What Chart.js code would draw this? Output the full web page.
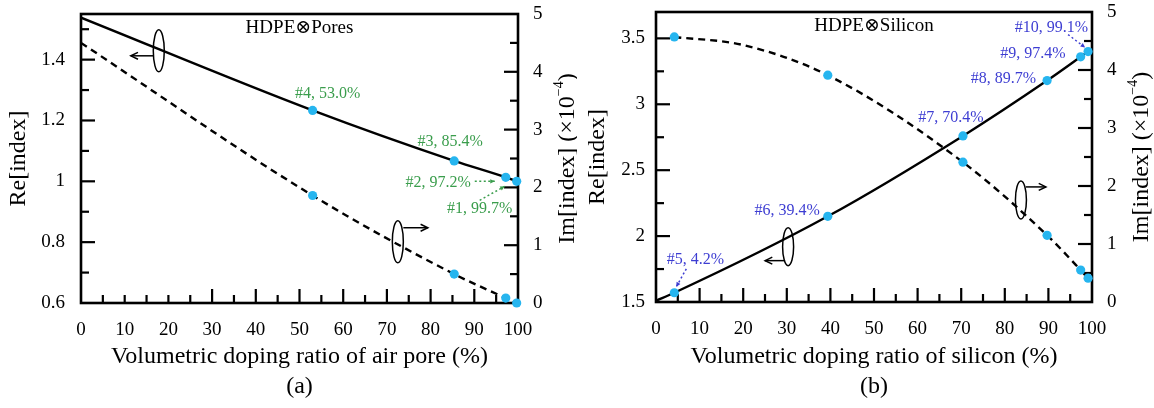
<!DOCTYPE html>
<html>
<head>
<meta charset="utf-8">
<title>HDPE doping ratio</title>
<script src="https://cdn.jsdelivr.net/npm/chart.js@4.4.1/dist/chart.umd.min.js"></script>
<style>
  html, body { margin: 0; padding: 0; background: #fff; }
  #wrap { position: relative; width: 1154px; height: 408px; overflow: hidden; }
  #wrap canvas { position: absolute; top: 0; }
</style>
</head>
<body>
<div id="wrap">
  <canvas id="chartA" width="577" height="408" style="left:0"></canvas>
  <canvas id="chartB" width="577" height="408" style="left:577px"></canvas>
</div>
<script>
// --- (a) HDPE + air pores ---
const poreRatio = [53.0, 85.4, 97.2, 99.7];
const poreRe = [1.233, 1.067, 1.013, 1.0];
const poreIm = [1.86, 0.50, 0.085, 0.0];
const poreTags = ['#4, 53.0%', '#3, 85.4%', '#2, 97.2%', '#1, 99.7%'];
// model curves
const poreCurveX = [0, 53.0, 85.4, 97.2, 99.7];
const poreReCurve = [1.538, 1.233, 1.067, 1.013, 1.0];
const poreImCurve = [4.5, 1.86, 0.50, 0.085, 0.0];

// --- (b) HDPE + silicon ---
const siRatio = [4.2, 39.4, 70.4, 89.7, 97.4, 99.1];
const siRe = [1.57, 2.15, 2.76, 3.18, 3.36, 3.40];
const siIm = [4.57, 3.91, 2.41, 1.15, 0.55, 0.41];
const siTags = ['#5, 4.2%', '#6, 39.4%', '#7, 70.4%', '#8, 89.7%', '#9, 97.4%', '#10, 99.1%'];
const siReCurveX = [0, 4.2, 39.4, 70.4, 89.7, 97.4, 99.1];
const siReCurve = [1.51, 1.57, 2.15, 2.76, 3.18, 3.36, 3.40];
const siImCurveX = [4.2, 20, 39.4, 70.4, 89.7, 97.4, 99.1];
const siImCurve = [4.57, 4.43, 3.91, 2.41, 1.15, 0.55, 0.41];

// --- tick labels ---
const xTicks = [0, 10, 20, 30, 40, 50, 60, 70, 80, 90, 100];
const poreReTicks = [0.6, 0.8, 1, 1.2, 1.4];
const siReTicks = [1.5, 2, 2.5, 3, 3.5];
const imTicks = [0, 1, 2, 3, 4, 5];

const DOT = '#26b5ef';
const GREEN = '#3a9d4c';
const BLUE = '#3d3dd2';
const SERIF = '"Liberation Serif", "DejaVu Serif", serif';

Chart.defaults.font.family = SERIF;
Chart.defaults.color = '#000';

function pts(xs, ys) {
	return xs.map((x, i) => ({ x: x, y: ys[i] }));
}
function hasTick(list, v) {
	return list.some(t => Math.abs(t - v) < 1e-6);
}

function arrowHead(ctx, x0, y0, x1, y1, size, filled) {
	var ang = Math.atan2(y1 - y0, x1 - x0);
	ctx.beginPath();
	ctx.moveTo(x1 - size * Math.cos(ang - 0.45), y1 - size * Math.sin(ang - 0.45));
	ctx.lineTo(x1, y1);
	ctx.lineTo(x1 - size * Math.cos(ang + 0.45), y1 - size * Math.sin(ang + 0.45));
	if (filled) { ctx.closePath(); ctx.fill(); } else { ctx.stroke(); }
}

// fixed axis boxes, no label overflow padding
function fixBox(size, vertical) {
	return function(s) {
		if (vertical) { s.width = size; s.paddingTop = 0; s.paddingBottom = 0; }
		else { s.height = size; s.paddingLeft = 0; s.paddingRight = 0; }
	};
}

// frame, inward ticks, labels, ellipses
const figureDecor = {
	id: 'figureDecor',
	beforeDatasetsDraw(chart, args, o) {
		var ctx = chart.ctx, a = chart.chartArea;
		ctx.save();
		ctx.strokeStyle = '#000';
		ctx.lineWidth = 2.6;
		ctx.strokeRect(a.left, a.top, a.right - a.left, a.bottom - a.top);
		var axes = [
			{ s: chart.scales.x, side: 'bottom', major: v => hasTick(xTicks, v) && !hasTick(o.shortTicks, v) },
			{ s: chart.scales.y, side: 'left', major: v => hasTick(o.reTicks, v) },
			{ s: chart.scales.y1, side: 'right', major: v => hasTick(imTicks, v) }
		];
		ctx.lineWidth = 2.2;
		axes.forEach(ax => {
			ax.s.ticks.forEach(t => {
				var p = ax.s.getPixelForValue(t.value);
				var len = ax.major(t.value) ? 14 : 8;
				ctx.beginPath();
				if (ax.side === 'bottom') {
					if (p < a.left + 2 || p > a.right - 2) return;
					ctx.moveTo(p, a.bottom); ctx.lineTo(p, a.bottom - len);
				} else {
					if (p > a.bottom - 2 || p < a.top + 2) return;
					var x0 = ax.side === 'left' ? a.left : a.right;
					var dir = ax.side === 'left' ? 1 : -1;
					ctx.moveTo(x0, p); ctx.lineTo(x0 + dir * len, p);
				}
				ctx.stroke();
			});
		});
		ctx.restore();
	},
	afterDatasetsDraw(chart, args, o) {
		var ctx = chart.ctx, a = chart.chartArea;
		var sx = chart.scales.x, sy = chart.scales.y, sy1 = chart.scales.y1;
		ctx.save();
		ctx.textBaseline = 'middle';

		// panel title
		ctx.fillStyle = '#000';
		ctx.font = '19px ' + SERIF;
		ctx.textAlign = 'center';
		ctx.fillText(o.title, (a.left + a.right) / 2, a.top + 14);

		// sample tags next to the Re points
		ctx.font = '16px ' + SERIF;
		o.tagPos.forEach((tp, i) => {
			var px = sx.getPixelForValue(o.ratio[i]);
			var py = sy.getPixelForValue(o.re[i]);
			ctx.fillStyle = o.tagColor;
			ctx.strokeStyle = o.tagColor;
			ctx.textAlign = tp.align;
			ctx.fillText(o.tags[i], px + tp.dx, py + tp.dy);
			if (tp.arrow) {
				var q = tp.arrow;
				ctx.lineWidth = 1.5;
				ctx.setLineDash([2, 2.5]);
				ctx.beginPath();
				ctx.moveTo(px + q[0], py + q[1]);
				ctx.lineTo(px + q[2], py + q[3]);
				ctx.stroke();
				ctx.setLineDash([]);
				arrowHead(ctx, px + q[0], py + q[1], px + q[2], py + q[3], 5, true);
			}
		});

		// ellipse markers pointing at the axis of each curve
		ctx.strokeStyle = '#000';
		ctx.fillStyle = '#000';
		ctx.lineWidth = 1.5;
		o.marks.forEach(m => {
			var sc = m.axis === 'y' ? sy : sy1;
			var cx = sx.getPixelForValue(m.x), cy = sc.getPixelForValue(m.y);
			ctx.beginPath();
			ctx.ellipse(cx, cy, 5.5, m.ry, 0, 0, Math.PI * 2);
			ctx.stroke();
			var q = m.arrow;
			ctx.beginPath();
			ctx.moveTo(cx + q[0], cy + q[1]);
			ctx.lineTo(cx + q[2], cy + q[3]);
			ctx.stroke();
			arrowHead(ctx, cx + q[0], cy + q[1], cx + q[2], cy + q[3], 8, false);
		});

		// right axis title, read bottom to top
		ctx.fillStyle = '#000';
		ctx.save();
		ctx.translate(a.right + 50, (a.top + a.bottom) / 2);
		ctx.rotate(-Math.PI / 2);
		var big = '24px ' + SERIF, small = '14px ' + SERIF;
		var parts = [['Im[index] (\u00d710', big, 0], ['\u22124', small, -9], [')', big, 0]];
		var total = 0;
		parts.forEach(p => { ctx.font = p[1]; total += ctx.measureText(p[0]).width; });
		var x = -total / 2;
		ctx.textAlign = 'left';
		parts.forEach(p => {
			ctx.font = p[1];
			ctx.fillText(p[0], x, p[2]);
			x += ctx.measureText(p[0]).width;
		});
		ctx.restore();

		// (a) / (b)
		ctx.font = '24px ' + SERIF;
		ctx.textAlign = 'center';
		ctx.fillText(o.letter, (a.left + a.right) / 2, 387);
		ctx.restore();
	}
};

function buildPanel(id, p) {
	return new Chart(document.getElementById(id), {
		type: 'scatter',
		data: {
			datasets: [
				{ data: pts(p.ratio, p.re), yAxisID: 'y', pointRadius: 4.6, pointBackgroundColor: DOT, pointBorderColor: DOT, pointBorderWidth: 0, showLine: false, clip: false, order: 0 },
				{ data: pts(p.ratio, p.im), yAxisID: 'y1', pointRadius: 4.6, pointBackgroundColor: DOT, pointBorderColor: DOT, pointBorderWidth: 0, showLine: false, clip: false, order: 1 },
				{ data: pts(p.reCurveX, p.reCurve), yAxisID: 'y', showLine: true, pointRadius: 0, borderColor: '#000', borderWidth: 2.4, cubicInterpolationMode: 'monotone', order: 2 },
				{ data: pts(p.imCurveX, p.imCurve), yAxisID: 'y1', showLine: true, pointRadius: 0, borderColor: '#000', borderWidth: 2.4, borderDash: [7, 5], cubicInterpolationMode: 'monotone', order: 3 }
			]
		},
		options: {
			responsive: false,
			animation: false,
			events: [],
			layout: { padding: { top: p.top, left: 0, right: 0, bottom: 0 } },
			plugins: {
				legend: { display: false },
				tooltip: { enabled: false },
				figureDecor: p
			},
			scales: {
				x: {
					type: 'linear', min: 0, max: 100,
					afterFit: fixBox(p.xHeight, false),
					grid: { display: false, drawTicks: false },
					border: { display: false },
					ticks: { stepSize: 5, autoSkip: false, maxRotation: 0, padding: 16, color: '#000', font: { size: 19 },
						callback: v => hasTick(xTicks, v) ? String(v) : '' },
					title: { display: true, text: p.xTitle, color: '#000', font: { size: 24 }, padding: { top: 0, bottom: 37 } }
				},
				y: {
					type: 'linear', position: 'left', min: p.reMin, max: p.reMax,
					afterFit: fixBox(p.leftWidth, true),
					grid: { display: false, drawTicks: false },
					border: { display: false },
					ticks: { stepSize: p.reStep, includeBounds: false, padding: p.leftPad, color: '#000', font: { size: 19 },
						callback: v => hasTick(p.reTicks, v) ? String(Math.round(v * 100) / 100) : '' },
					title: { display: true, text: 'Re[index]', color: '#000', font: { size: 24 }, padding: { top: p.leftTitlePad, bottom: 0 } }
				},
				y1: {
					type: 'linear', position: 'right', min: 0, max: 5,
					afterFit: fixBox(p.rightWidth, true),
					grid: { display: false, drawTicks: false },
					border: { display: false },
					ticks: { stepSize: 0.5, includeBounds: false, padding: 15, color: '#000', font: { size: 19 },
						callback: v => hasTick(imTicks, v) ? String(v) : '' }
				}
			}
		},
		plugins: [figureDecor]
	});
}

buildPanel('chartA', {
	ratio: poreRatio, re: poreRe, im: poreIm, tags: poreTags,
	reCurveX: poreCurveX, reCurve: poreReCurve, imCurveX: poreCurveX, imCurve: poreImCurve,
	reMin: 0.6, reMax: 1.55, reStep: 0.1, reTicks: poreReTicks,
	shortTicks: [10, 20],
	top: 14, leftWidth: 81, rightWidth: 59, xHeight: 105, leftPad: 16, leftTitlePad: 4.6,
	title: 'HDPE\u2297Pores', letter: '(a)', tagColor: GREEN,
	xTitle: 'Volumetric doping ratio of air pore (%)',
	tagPos: [
		{ dx: 15, dy: -17, align: 'center' },
		{ dx: -4, dy: -19, align: 'center' },
		{ dx: -35, dy: 5, align: 'right', arrow: [-31, 4, -11, 4] },
		{ dx: -37, dy: 27, align: 'center', arrow: [-37, 19, -12, 5] }
	],
	marks: [
		{ x: 17.8, y: 1.429, axis: 'y', ry: 21, arrow: [-5.5, 5, -28, 5] },
		{ x: 72.5, y: 1.06, axis: 'y1', ry: 21, arrow: [5.5, -14, 30, -14] }
	]
});

buildPanel('chartB', {
	ratio: siRatio, re: siRe, im: siIm, tags: siTags,
	reCurveX: siReCurveX, reCurve: siReCurve, imCurveX: siImCurveX, imCurve: siImCurve,
	reMin: 1.5, reMax: 3.7, reStep: 0.25, reTicks: siReTicks,
	shortTicks: [],
	top: 12, leftWidth: 79, rightWidth: 62, xHeight: 106, leftPad: 11, leftTitlePad: 6.6,
	title: 'HDPE\u2297Silicon', letter: '(b)', tagColor: BLUE,
	xTitle: 'Volumetric doping ratio of silicon (%)',
	tagPos: [
		{ dx: 21, dy: -33, align: 'center', arrow: [12, -24, 2, -6] },
		{ dx: -8, dy: -6, align: 'right' },
		{ dx: -12, dy: -18, align: 'center' },
		{ dx: -11, dy: -2, align: 'right' },
		{ dx: -15, dy: -3, align: 'right' },
		{ dx: 0, dy: -24, align: 'right', arrow: [-20, -17, -3, -4] }
	],
	marks: [
		{ x: 30.3, y: 1.92, axis: 'y', ry: 19, arrow: [-3, 14, -23, 14] },
		{ x: 83.7, y: 1.76, axis: 'y1', ry: 19, arrow: [5, -13, 25, -13] }
	]
});
</script>
</body>
</html>
